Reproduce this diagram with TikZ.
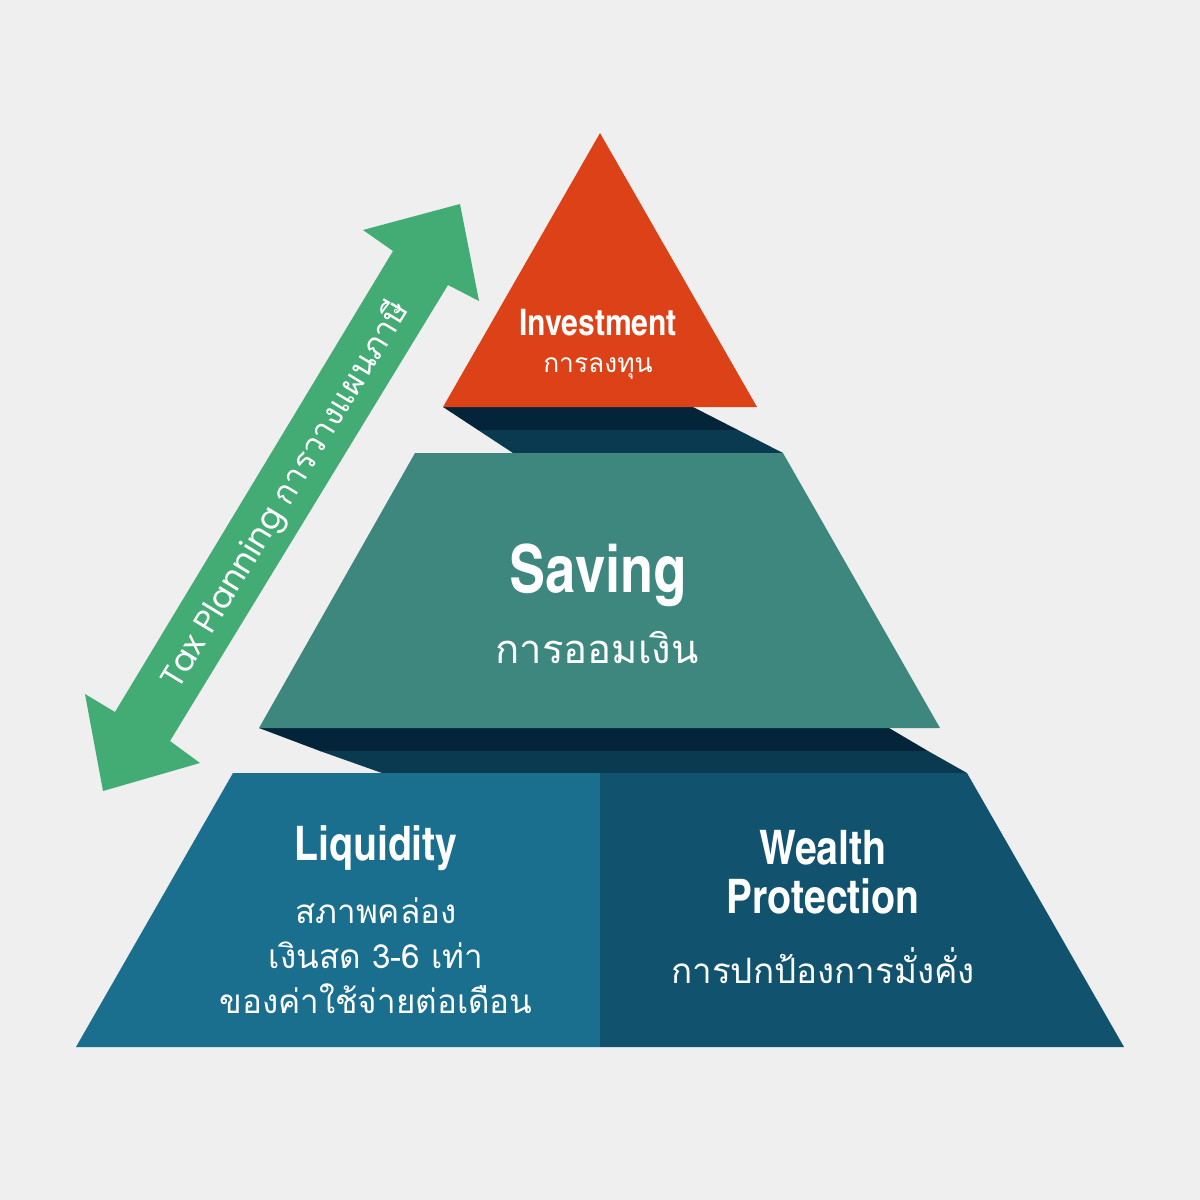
\documentclass[tikz,border=0pt]{standalone}
\usepackage{fontspec}
\setmainfont{Liberation Sans}
\newfontfamily\thaifont[Script=Thai]{Loma}
\newfontfamily\condfont{texgyreheroscn-bold.otf}
\newfontfamily\geofont{Poppins}
\definecolor{bg}{HTML}{EFEFEF}
\definecolor{orng}{HTML}{DD4118}
\definecolor{shadeA}{HTML}{04243A}
\definecolor{shadeB}{HTML}{0A3A50}
\definecolor{saving}{HTML}{3E877F}
\definecolor{liq}{HTML}{1A6E8E}
\definecolor{wealth}{HTML}{11536E}
\definecolor{arrowgreen}{HTML}{43AB74}
\begin{document}
\begin{tikzpicture}[x=0.5pt,y=-0.5pt,
  title/.style={text=white,align=center,inner sep=0pt},
  sub/.style={text=white,align=center,inner sep=0pt},
  ]
\fill[bg] (0,0) rectangle (1200,1200);
\useasboundingbox (0,0) rectangle (1200,1200);
% shadow under investment
\fill[shadeA] (443,407) -- (693,407) -- (738,430) -- (478,430) -- cycle;
\fill[shadeB] (478,430) -- (738,430) -- (783,453) -- (513,453) -- cycle;
% shadow under saving
\fill[shadeA] (259,728) -- (889,728) -- (928,751) -- (320,751) -- cycle;
\fill[shadeB] (320,751) -- (928,751) -- (967,773) -- (382,773) -- cycle;
% investment triangle
\fill[orng] (600,133) -- (757,407) -- (443,407) -- cycle;
% saving trapezoid
\fill[saving] (415,453) -- (783,453) -- (940,728) -- (259,728) -- cycle;
% base
\fill[liq] (233,773) -- (600,773) -- (600,1047) -- (76,1047) -- cycle;
\fill[wealth] (600,773) -- (967,773) -- (1124,1047) -- (600,1047) -- cycle;
% green double arrow
\fill[arrowgreen] (460,204) -- (479,301) -- (448,285) -- (170,741) -- (200,763)
  -- (103,791) -- (85,694) -- (115,712) -- (393,251) -- (363,230) -- cycle;
\node[text=white,rotate=58.7,inner sep=0pt] (tax) at (286,495)
  {\fontsize{16.3}{18}\selectfont\geofont Tax Planning \thaifont การวางแผนภาษี};
% texts
\node[title,font={\condfont\fontsize{18.3}{20}\selectfont}] (inv) at (598,323) {Investment};
\node[sub,font={\thaifont\fontsize{13.2}{15}\selectfont}] (invth) at (598,369) {การลงทุน};
\node[title,font={\condfont\fontsize{33}{36}\selectfont}] (sav) at (598,575) {Saving};
\node[sub,font={\thaifont\fontsize{20}{22}\selectfont}] (savth) at (597,648) {การออมเงิน};
\node[title,font={\condfont\fontsize{23.8}{26}\selectfont}] (liqt) at (376,848) {Liquidity};
\node[sub,font={\thaifont\fontsize{16.6}{22.5}\selectfont}] (liqth) at (376,956) {สภาพคล่อง\\เงินสด 3-6 เท่า\\ของค่าใช้จ่ายต่อเดือน};
\node[title,font={\condfont\fontsize{23.8}{24.5}\selectfont}] (wt) at (823,872) {Wealth\\Protection};
\node[sub,font={\thaifont\fontsize{17.5}{20}\selectfont}] (wth) at (823,966) {การปกป้องการมั่งคั่ง};
\end{tikzpicture}
\end{document}
